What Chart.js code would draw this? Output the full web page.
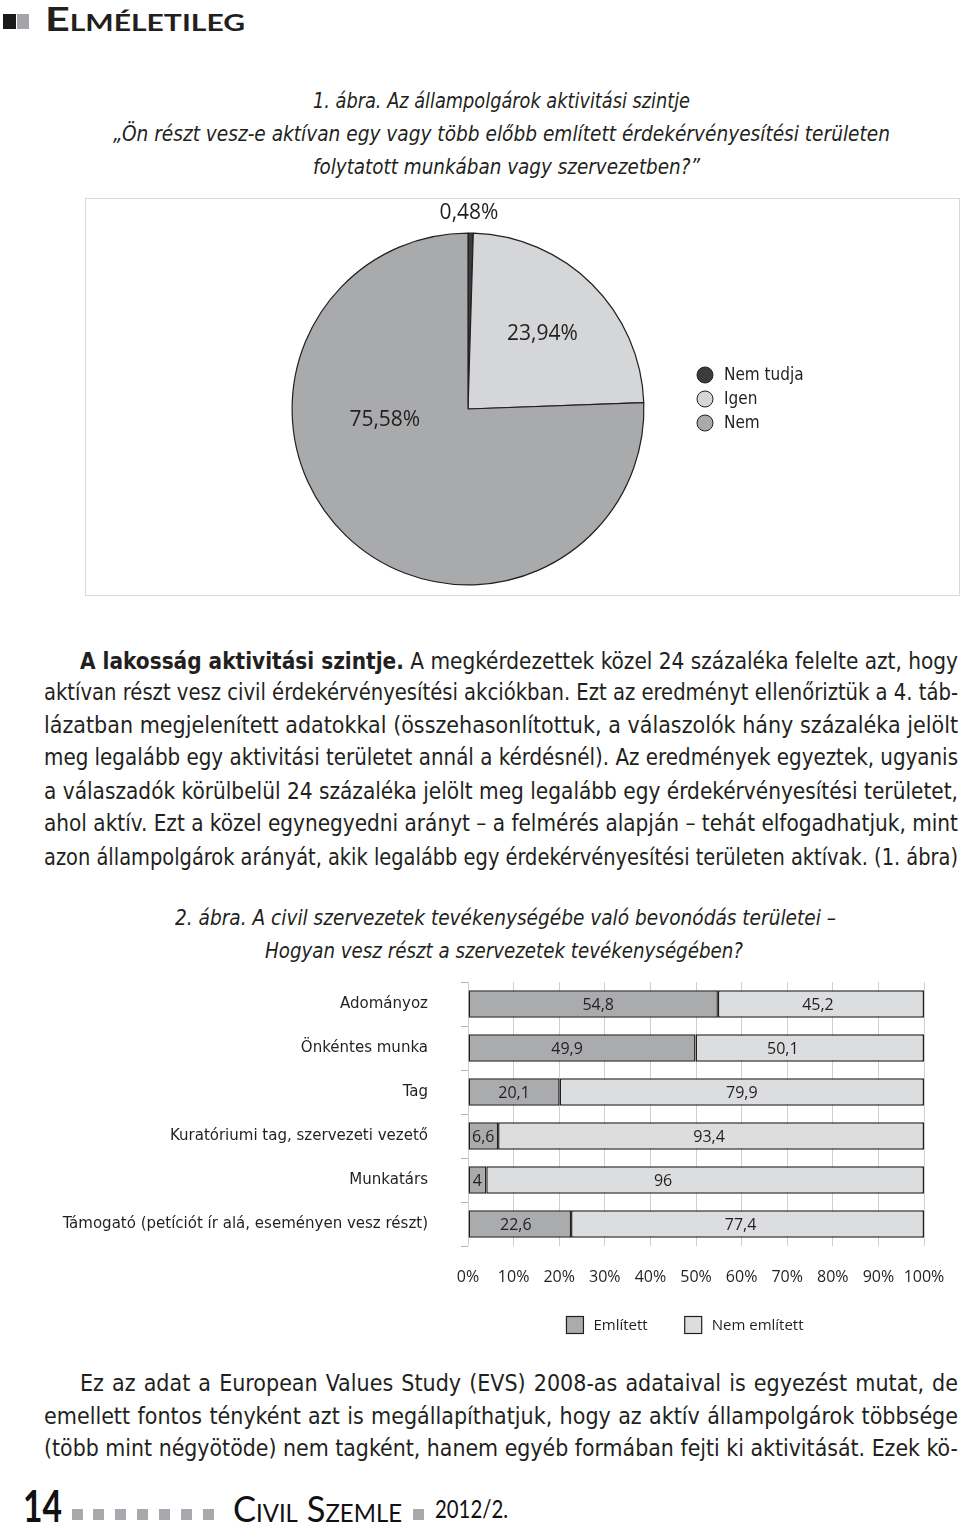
<!DOCTYPE html>
<html lang="hu"><head><meta charset="utf-8">
<script src="https://cdn.jsdelivr.net/npm/chart.js@4.4.1/dist/chart.umd.min.js"></script>
<style>
html,body{margin:0;padding:0;background:#fff;}
#page{position:relative;width:960px;height:1527px;overflow:hidden;color:#231f20;}
.ln{position:absolute;white-space:nowrap;height:32px;line-height:32px;font-family:'Liberation Sans Narrow','DejaVu Sans Condensed','Roboto Condensed','Open Sans',sans-serif;font-size:23px;}
.ln>span{display:inline-block;transform-origin:0 50%;}
.cap{font-style:italic;font-size:21px;}
.sq{position:absolute;}
</style></head><body><div id="page">

<div class="sq" style="left:3px;top:14px;width:13px;height:15px;background:#1a1a1a"></div>
<div class="sq" style="left:17px;top:14px;width:12px;height:15px;background:#a3a5a8"></div>
<div class="ln" data-mode="s" style="left:45px;top:2px;width:200px;font-family:Lato,'Open Sans',sans-serif;font-weight:bold;font-size:33px;font-variant:small-caps;"><span>Elméletileg</span></div>

<div class="ln cap" data-mode="s" style="left:313px;top:85px;width:377px"><span>1. ábra. Az állampolgárok aktivitási szintje</span></div>
<div class="ln cap" data-mode="s" style="left:113px;top:118px;width:777px"><span>„Ön részt vesz-e aktívan egy vagy több előbb említett érdekérvényesítési területen</span></div>
<div class="ln cap" data-mode="s" style="left:313px;top:151px;width:387px"><span>folytatott munkában vagy szervezetben?”</span></div>

<div style="position:absolute;left:85px;top:198px;width:873px;height:396px;border:1px solid #d9d9d9"></div>
<canvas id="pie" width="874" height="397" style="position:absolute;left:85px;top:198px"></canvas>

<div class="ln" data-mode="j" style="left:80px;top:645px;width:878px"><span><b>A lakosság aktivitási szintje.</b> A megkérdezettek közel 24 százaléka felelte azt, hogy</span></div>
<div class="ln" data-mode="j" style="left:44px;top:676px;width:914px"><span>aktívan részt vesz civil érdekérvényesítési akciókban. Ezt az eredményt ellenőriztük a 4. táb-</span></div>
<div class="ln" data-mode="j" style="left:44px;top:709px;width:914px"><span>lázatban megjelenített adatokkal (összehasonlítottuk, a válaszolók hány százaléka jelölt</span></div>
<div class="ln" data-mode="j" style="left:44px;top:741px;width:914px"><span>meg legalább egy aktivitási területet annál a kérdésnél). Az eredmények egyeztek, ugyanis</span></div>
<div class="ln" data-mode="j" style="left:44px;top:775px;width:914px"><span>a válaszadók körülbelül 24 százaléka jelölt meg legalább egy érdekérvényesítési területet,</span></div>
<div class="ln" data-mode="j" style="left:44px;top:807px;width:914px"><span>ahol aktív. Ezt a közel egynegyedni arányt – a felmérés alapján – tehát elfogadhatjuk, mint</span></div>
<div class="ln" data-mode="j" style="left:44px;top:841px;width:914px"><span>azon állampolgárok arányát, akik legalább egy érdekérvényesítési területen aktívak. (1. ábra)</span></div>

<div class="ln cap" data-mode="s" style="left:175px;top:902px;width:661px"><span>2. ábra. A civil szervezetek tevékenységébe való bevonódás területei –</span></div>
<div class="ln cap" data-mode="s" style="left:265px;top:935px;width:478px"><span>Hogyan vesz részt a szervezetek tevékenységében?</span></div>

<canvas id="bar" width="960" height="370" style="position:absolute;left:0;top:975px"></canvas>

<div class="ln" data-mode="j" style="left:80px;top:1367px;width:878px"><span>Ez az adat a European Values Study (EVS) 2008-as adataival is egyezést mutat, de</span></div>
<div class="ln" data-mode="j" style="left:44px;top:1400px;width:914px"><span>emellett fontos tényként azt is megállapíthatjuk, hogy az aktív állampolgárok többsége</span></div>
<div class="ln" data-mode="j" style="left:44px;top:1432px;width:914px"><span>(több mint négyötöde) nem tagként, hanem egyéb formában fejti ki aktivitását. Ezek kö-</span></div>

<div class="ln" data-mode="s" style="left:23px;top:1485px;width:39px;height:40px;line-height:40px;font-family:Lato,'Open Sans',sans-serif;font-weight:bold;font-size:44px;color:#111"><span>14</span></div>
<div class="sq" style="left:72px;top:1509px;width:11px;height:11px;background:#a7a9ac"></div>
<div class="sq" style="left:93px;top:1509px;width:11px;height:11px;background:#a7a9ac"></div>
<div class="sq" style="left:115px;top:1509px;width:11px;height:11px;background:#a7a9ac"></div>
<div class="sq" style="left:137px;top:1509px;width:11px;height:11px;background:#a7a9ac"></div>
<div class="sq" style="left:159px;top:1509px;width:11px;height:11px;background:#a7a9ac"></div>
<div class="sq" style="left:181px;top:1509px;width:11px;height:11px;background:#a7a9ac"></div>
<div class="sq" style="left:203px;top:1509px;width:11px;height:11px;background:#a7a9ac"></div>
<div class="ln" data-mode="s" style="left:233px;top:1488px;width:169px;height:40px;line-height:40px;font-family:Lato,'Open Sans',sans-serif;font-size:36px;font-variant:small-caps;color:#111"><span>Civil Szemle</span></div>
<div class="sq" style="left:413px;top:1509px;width:11px;height:11px;background:#a7a9ac"></div>
<div class="ln" data-mode="s" style="left:435px;top:1488px;width:73px;height:40px;line-height:40px;font-family:Lato,'Open Sans',sans-serif;font-size:25px;color:#111"><span>2012/2.</span></div>

</div>
<script>
// ---------- data ----------
const pieLabels = ['Nem tudja', 'Igen', 'Nem'];
const pieValues = [0.48, 23.94, 75.58];
const pieColors = ['#3c3c3e', '#d4d6d8', '#a9aaac'];

const barCategories = ['Adományoz', 'Önkéntes munka', 'Tag', 'Kuratóriumi tag, szervezeti vezető', 'Munkatárs', 'Támogató (petíciót ír alá, eseményen vesz részt)'];
const seriesNames = ['Említett', 'Nem említett'];
const emlitett = [54.8, 49.9, 20.1, 6.6, 4, 22.6];
const nemEmlitett = [45.2, 50.1, 79.9, 93.4, 96, 77.4];
const barColors = ['#a9abad', '#dcdddf'];
const xTickSuffix = '%';

// ---------- text fitting ----------
document.querySelectorAll('.ln').forEach(el => {
  const span = el.firstElementChild;
  const target = parseFloat(el.style.width);
  const nat = span.getBoundingClientRect().width;
  const mode = el.dataset.mode;
  if (mode === 'j') {
    const spaces = (span.textContent.match(/ /g) || []).length;
    if (nat <= target && spaces) span.style.wordSpacing = ((target - nat) / spaces) + 'px';
    else span.style.transform = 'scaleX(' + (target / nat) + ')';
  } else {
    span.style.transform = 'scaleX(' + (target / nat) + ')';
  }
});

const cond = "'Liberation Sans Narrow','DejaVu Sans Condensed','Roboto Condensed','Open Sans',sans-serif";
const fmt = v => String(v).replace('.', ',');
const ink = '#231f20';

// ---------- pie ----------
const pieLabelPlugin = {
  id: 'pieLabels',
  afterDatasetsDraw(chart, args, opts) {
    const ctx = chart.ctx;
    const meta = chart.getDatasetMeta(0);
    ctx.save();
    ctx.font = opts.font;
    ctx.fillStyle = opts.color;
    ctx.textAlign = 'center';
    ctx.textBaseline = 'middle';
    meta.data.forEach((arc, i) => {
      const p = opts.place[i];
      const pr = arc.getProps(['x', 'y', 'outerRadius', 'startAngle', 'endAngle'], true);
      const a = p.deg == null ? (pr.startAngle + pr.endAngle) / 2 : (p.deg - 90) * Math.PI / 180;
      const r = pr.outerRadius * p.r;
      const v = chart.data.datasets[0].data[i];
      ctx.fillText(v.toFixed(2).replace('.', ',') + '%', pr.x + Math.cos(a) * r, pr.y + Math.sin(a) * r);
    });
    ctx.restore();
  }
};
const pieLegendPlugin = {
  id: 'pieLegend',
  afterDraw(chart, args, opts) {
    const ctx = chart.ctx;
    const ds = chart.data.datasets[0];
    ctx.save();
    ctx.font = opts.font;
    ctx.textBaseline = 'middle';
    ctx.textAlign = 'left';
    chart.data.labels.forEach((lab, i) => {
      const cy = opts.y + i * opts.gap;
      ctx.beginPath();
      ctx.arc(opts.x, cy, opts.r, 0, Math.PI * 2);
      ctx.fillStyle = ds.backgroundColor[i];
      ctx.fill();
      ctx.lineWidth = 1;
      ctx.strokeStyle = ink;
      ctx.stroke();
      ctx.fillStyle = ink;
      ctx.fillText(lab, opts.textX, cy + 1);
    });
    ctx.restore();
  }
};

new Chart(document.getElementById('pie'), {
  type: 'pie',
  data: {
    labels: pieLabels,
    datasets: [{ data: pieValues, backgroundColor: pieColors, borderColor: ink, borderWidth: 1.2 }]
  },
  options: {
    responsive: false,
    animation: false,
    rotation: 0,
    layout: { padding: { left: 206.5, top: 34.5, right: 314.5, bottom: 9.5 } },
    plugins: {
      legend: { display: false },
      tooltip: { enabled: false },
      pieLabels: { font: "21px 'Open Sans', sans-serif", color: ink,
        place: [{ deg: 0.3, r: 1.114 }, { r: 0.6 }, { deg: 262.5, r: 0.477 }] },
      pieLegend: { x: 620, y: 177, gap: 24, r: 8, textX: 639, font: "17px " + cond }
    }
  },
  plugins: [pieLabelPlugin, pieLegendPlugin]
});

// ---------- bar ----------
const barValuePlugin = {
  id: 'barValues',
  afterDatasetsDraw(chart, args, opts) {
    const ctx = chart.ctx;
    ctx.save();
    ctx.font = opts.font;
    ctx.fillStyle = opts.color;
    ctx.textAlign = 'center';
    ctx.textBaseline = 'middle';
    chart.data.datasets.forEach((ds, di) => {
      chart.getDatasetMeta(di).data.forEach((bar, i) => {
        const p = bar.getProps(['x', 'y', 'base'], true);
        const cx = (p.x + p.base) / 2 + ((opts.nudge[di] || [])[i] || 0);
        ctx.fillText(fmt(ds.data[i]), cx, p.y + 1);
      });
    });
    ctx.restore();
  }
};
const barLegendPlugin = {
  id: 'barLegend',
  afterDraw(chart, args, opts) {
    const ctx = chart.ctx;
    const dss = chart.data.datasets;
    ctx.save();
    ctx.font = opts.font;
    ctx.textBaseline = 'middle';
    ctx.textAlign = 'left';
    const widths = dss.map(ds => opts.box + opts.textGap + ctx.measureText(ds.label).width);
    const total = widths.reduce((a, b) => a + b, 0) + opts.itemGap * (dss.length - 1);
    let x = opts.cx - total / 2;
    dss.forEach((ds, i) => {
      const y = opts.cy - opts.box / 2;
      ctx.fillStyle = ds.backgroundColor;
      ctx.fillRect(x, y, opts.box, opts.box);
      ctx.lineWidth = 1.2;
      ctx.strokeStyle = ds.borderColor;
      ctx.strokeRect(x, y, opts.box, opts.box);
      ctx.fillStyle = ink;
      ctx.fillText(ds.label, x + opts.box + opts.textGap, opts.cy + 1);
      x += widths[i] + opts.itemGap;
    });
    ctx.restore();
  }
};

new Chart(document.getElementById('bar'), {
  type: 'bar',
  data: {
    labels: barCategories,
    datasets: [
      { label: seriesNames[0], data: emlitett, backgroundColor: barColors[0], borderColor: ink, borderWidth: 1.5, borderSkipped: false },
      { label: seriesNames[1], data: nemEmlitett, backgroundColor: barColors[1], borderColor: ink, borderWidth: 1.5, borderSkipped: false }
    ]
  },
  options: {
    responsive: false,
    animation: false,
    indexAxis: 'y',
    categoryPercentage: 1,
    barPercentage: 0.62,
    layout: { padding: { left: 0, right: 36, top: 7, bottom: 35 } },
    scales: {
      x: {
        stacked: true, min: 0, max: 100,
        afterFit(s) { s.height = 64; s.paddingLeft = 0; s.paddingRight = 0; },
        ticks: { stepSize: 10, callback: v => v + xTickSuffix, padding: 22, color: ink,
          font: { family: "'Open Sans', sans-serif", size: 16 }, maxRotation: 0 },
        grid: { color: '#cfcfcf', drawTicks: false, lineWidth: 1 },
        border: { display: false }
      },
      y: {
        stacked: true,
        afterFit(s) { s.width = 468; s.paddingTop = 0; s.paddingBottom = 0; },
        ticks: { padding: 33, color: ink, font: { family: cond, size: 16.7 } },
        grid: { drawOnChartArea: false, tickLength: 7, color: '#b5b5b5', offset: true },
        border: { display: false }
      }
    },
    plugins: {
      legend: { display: false },
      tooltip: { enabled: false },
      barValues: { font: "16px 'Open Sans', sans-serif", color: ink,
        nudge: [[5, -15, 0, 0, 0, -4], [-3, -27, 0, -2, -42, -7]] },
      barLegend: { cx: 685, cy: 350, box: 17, textGap: 10, itemGap: 37, font: "15px 'Open Sans', sans-serif" }
    }
  },
  plugins: [barValuePlugin, barLegendPlugin]
});
</script>
</body></html>
